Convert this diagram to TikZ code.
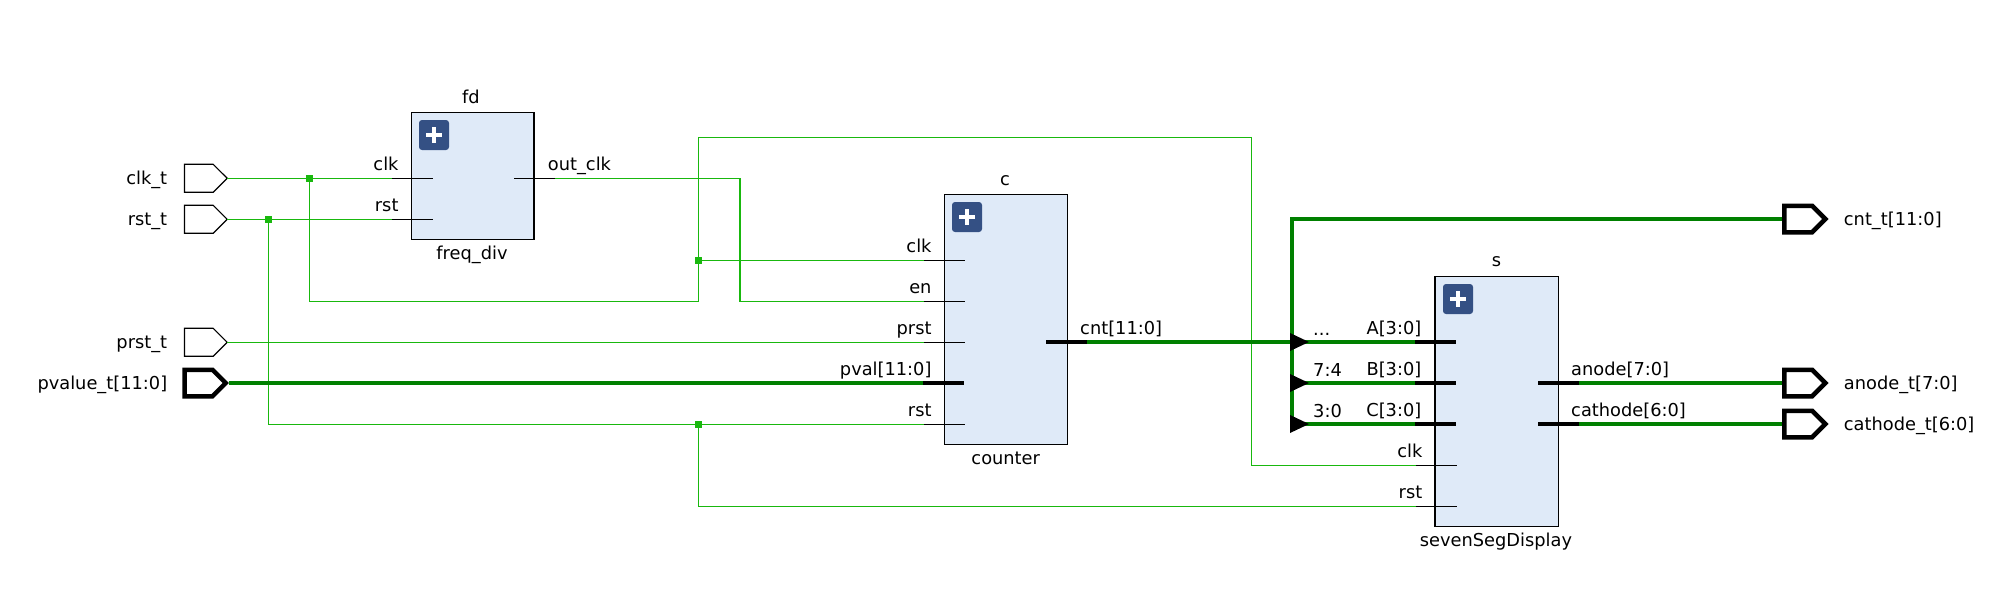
\documentclass[tikz,border=0pt]{standalone}
\usepackage{fontspec}
\setmainfont{DejaVu Sans}
\usepackage{tikz}
\usetikzlibrary{shapes.symbols}
\definecolor{wireGreen}{RGB}{25,184,14}
\definecolor{busGreen}{RGB}{0,128,0}
\definecolor{blockFill}{RGB}{223,234,248}
\definecolor{plusBlue}{RGB}{52,80,132}

\begin{document}
\begin{tikzpicture}[
        x=1pt,y=-1pt,
        every node/.style={font=\fontsize{17.8}{20}\selectfont},
        portThin/.style={signal,signal to=east,signal from=nowhere,signal pointer angle=90,anchor=west,draw=black,fill=white,line width=1.2,inner sep=0,outer sep=0,minimum width=42.8,minimum height=28},
        portBus/.style={signal,signal to=east,signal from=nowhere,signal pointer angle=90,anchor=west,draw=black,fill=white,line width=4.5,inner sep=0,outer sep=0,minimum width=41,minimum height=26.5},
        block/.style={rectangle,draw=black,fill=blockFill,line width=1.3,inner sep=0,outer sep=0},
        plusIcon/.style={rectangle,rounded corners=3,fill=plusBlue,inner sep=0,minimum size=30,
            path picture={\draw[white,line width=3.6] (path picture bounding box.center) ++(-8,0) -- ++(16,0);
                \draw[white,line width=3.6] (path picture bounding box.center) ++(0,-8) -- ++(0,16);}},
        pinThin/.style={rectangle,fill=black,inner sep=0,outer sep=0,minimum width=41,minimum height=1.2},
        pinBus/.style={rectangle,fill=black,inner sep=0,outer sep=0,minimum width=41,minimum height=4.4},
        wire/.style={draw=wireGreen,line width=1.2},
        bus/.style={draw=busGreen,line width=4},
        junction/.style={rectangle,fill=wireGreen,inner sep=0,minimum size=7},
        lblE/.style={anchor=base east,inner sep=0},
        lblW/.style={anchor=base west,inner sep=0},
        lblC/.style={anchor=base,inner sep=0},
    ]
    \useasboundingbox (0,0) rectangle (2015,594);

    %--- Blocks ---%
    \node[block,minimum width=122.4,minimum height=127] (fd) at (472.8,175.8) {};
    \node[block,minimum width=123.4,minimum height=250] (c) at (1006,319.3) {};
    \node[block,minimum width=123.6,minimum height=250] (s) at (1496.8,401.3) {};
    \node[plusIcon] (fdPlus) at (434,135) {};
    \node[plusIcon] (cPlus) at (967,217) {};
    \node[plusIcon] (sPlus) at (1458,299) {};

    %--- Block names ---%
    \node[lblC] (fdName) at (471,103.3) {fd};
    \node[lblC] (fdType) at (472,259) {freq\_div};
    \node[lblC] (cName) at (1005,185) {c};
    \node[lblC] (cType) at (1005.7,464) {counter};
    \node[lblC] (sName) at (1496.5,266.7) {s};
    \node[lblC] (sType) at (1496,546) {sevenSegDisplay};

    %--- Pins ---%
    \node[pinThin] (fdClk) at (412.5,178.3) {};
    \node[pinThin] (fdRst) at (412.5,219.3) {};
    \node[pinThin] (fdOut) at (534.5,178.3) {};
    \node[pinThin] (cClk) at (944.5,260.3) {};
    \node[pinThin] (cEn) at (944.5,301.3) {};
    \node[pinThin] (cPrst) at (944.5,342.3) {};
    \node[pinBus] (cPval) at (943.5,383) {};
    \node[pinThin] (cRst) at (944.5,424.3) {};
    \node[pinBus] (cCnt) at (1066.5,342) {};
    \node[pinBus] (sA) at (1435.5,342) {};
    \node[pinBus] (sB) at (1435.5,383) {};
    \node[pinBus] (sC) at (1435.5,424) {};
    \node[pinThin] (sClk) at (1436,465.3) {};
    \node[pinThin] (sRst) at (1436,506.3) {};
    \node[pinBus] (sAnode) at (1558.5,383) {};
    \node[pinBus] (sCathode) at (1558.5,424) {};

    %--- Junctions and corners ---%
    \node[junction] (jClk) at (309.4,178.3) {};
    \node[junction] (jRst) at (268.3,219.3) {};
    \node[junction] (jCclk) at (698.4,260.3) {};
    \node[junction] (jCrst) at (698.4,424.3) {};
    \coordinate (k1) at (698.4,301.3);
    \coordinate (k2) at (698.4,137.5);
    \coordinate (k3) at (1251.3,137.5);
    \coordinate (k4) at (740,301.3);
    \coordinate (k5) at (268.3,424.3);
    \coordinate (ripA) at (1292,342);
    \coordinate (ripB) at (1292,383);
    \coordinate (ripC) at (1292,424);

    %--- Ports ---%
    \node[portThin] (clkT) at (184.4,178.3) {};
    \node[portThin] (rstT) at (184.4,219.3) {};
    \node[portThin] (prstT) at (184.4,342.3) {};
    \node[portBus] (pvalueT) at (184.7,383) {};
    \node[portBus] (cntT) at (1784.3,219) {};
    \node[portBus] (anodeT) at (1784.3,383) {};
    \node[portBus] (cathodeT) at (1784.3,424) {};

    %--- Thin wires ---%
    \draw[wire] (clkT.east) -- (fdClk.west);
    \draw[wire] (rstT.east) -- (fdRst.west);
    \draw[wire] (jClk.center) |- (k1) -- (k2) -- (k3) |- (sClk.west);
    \draw[wire] (jCclk.center) -- (cClk.west);
    \draw[wire] (fdOut.east) -| (k4) -- (cEn.west);
    \draw[wire] (prstT.east) -- (cPrst.west);
    \draw[wire] (jRst.center) -- (k5) -- (cRst.west);
    \draw[wire] (jCrst.center) |- (sRst.west);

    %--- Buses ---%
    \draw[bus,shorten <=3] (pvalueT.east) -- (cPval.west);
    \draw[bus] (cCnt.east) -- (sA.west);
    \draw[bus,shorten <=2.2] (cntT.west) -| (ripA);
    \draw[bus] (ripA) |- (sC.west);
    \draw[bus] (ripB) -- (sB.west);
    \draw[bus,shorten >=2.2] (sAnode.east) -- (anodeT.west);
    \draw[bus,shorten >=2.2] (sCathode.east) -- (cathodeT.west);

    %--- Ripper marks ---%
    \fill[black] (ripA) ++(-2,-9) -- ++(19,9) -- ++(-19,9) -- cycle;
    \fill[black] (ripB) ++(-2,-9) -- ++(19,9) -- ++(-19,9) -- cycle;
    \fill[black] (ripC) ++(-2,-9) -- ++(19,9) -- ++(-19,9) -- cycle;

    %--- Port labels ---%
    \node[lblE] (clkTLbl) at (167.4,184.3) {clk\_t};
    \node[lblE] (rstTLbl) at (167.4,225.3) {rst\_t};
    \node[lblE] (prstTLbl) at (167.4,348.3) {prst\_t};
    \node[lblE] (pvalueTLbl) at (167.4,389) {pvalue\_t[11:0]};
    \node[lblW] (cntTLbl) at (1843.7,225) {cnt\_t[11:0]};
    \node[lblW] (anodeTLbl) at (1843.7,389) {anode\_t[7:0]};
    \node[lblW] (cathodeTLbl) at (1843.7,430) {cathode\_t[6:0]};

    %--- Pin labels ---%
    \node[lblE] (fdClkLbl) at (398.7,170.3) {clk};
    \node[lblE] (fdRstLbl) at (398.7,211.3) {rst};
    \node[lblW] (fdOutLbl) at (547.7,170.3) {out\_clk};
    \node[lblE] (cClkLbl) at (931.7,252.3) {clk};
    \node[lblE] (cEnLbl) at (931.7,293.3) {en};
    \node[lblE] (cPrstLbl) at (931.7,334.3) {prst};
    \node[lblE] (cPvalLbl) at (931.7,375) {pval[11:0]};
    \node[lblE] (cRstLbl) at (931.7,416.3) {rst};
    \node[lblW] (cCntLbl) at (1080,334) {cnt[11:0]};
    \node[lblE] (sALbl) at (1421.5,334) {A[3:0]};
    \node[lblE] (sBLbl) at (1421.5,375) {B[3:0]};
    \node[lblE] (sCLbl) at (1421.5,416) {C[3:0]};
    \node[lblE] (sClkLbl) at (1422.5,457.3) {clk};
    \node[lblE] (sRstLbl) at (1422.5,498.3) {rst};
    \node[lblW] (sAnodeLbl) at (1571,375) {anode[7:0]};
    \node[lblW] (sCathodeLbl) at (1571,416) {cathode[6:0]};

    %--- Ripper labels ---%
    \node[lblW] (ripALbl) at (1313,335) {...};
    \node[lblW] (ripBLbl) at (1313,376) {7:4};
    \node[lblW] (ripCLbl) at (1313,417) {3:0};
\end{tikzpicture}
\end{document}
